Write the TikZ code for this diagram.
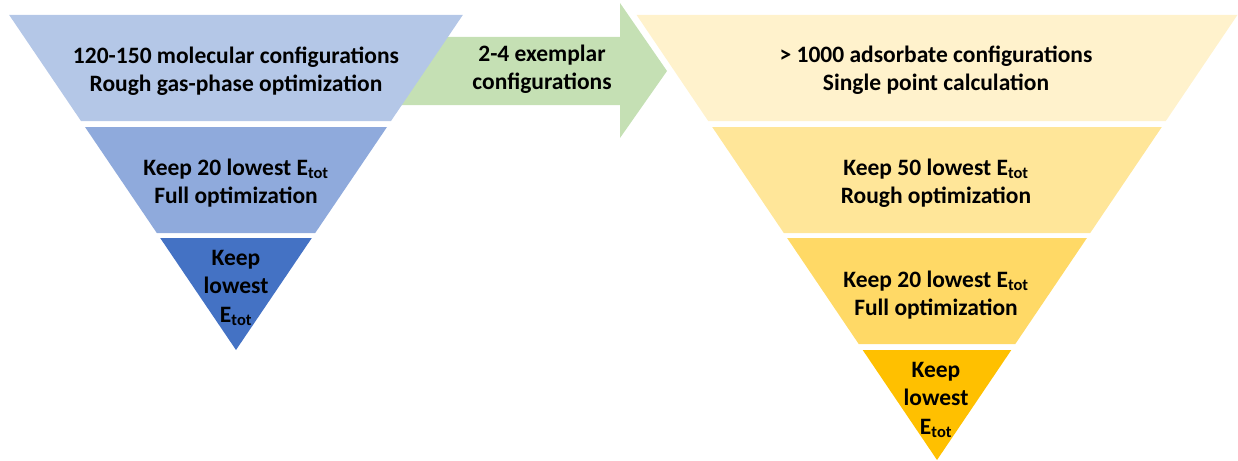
\documentclass[tikz,border=0pt]{standalone}
\usepackage{fontspec}
\setmainfont{Carlito}
\definecolor{blueA}{HTML}{B4C7E7}
\definecolor{blueB}{HTML}{8FAADC}
\definecolor{blueC}{HTML}{4472C4}
\definecolor{yelA}{HTML}{FFF2CC}
\definecolor{yelB}{HTML}{FFE699}
\definecolor{yelC}{HTML}{FFD966}
\definecolor{yelD}{HTML}{FFC000}
\definecolor{arrowgreen}{HTML}{C5E0B4}
\begin{document}
\begin{tikzpicture}[x=1pt,y=-1pt,
  lbl/.style={align=center,inner sep=0pt,text=black,font=\bfseries\fontsize{23.5}{28.5}\selectfont}]
\useasboundingbox (0,0) rectangle (1238,460);
% arrow (drawn first, partly under left funnel)
\fill[arrowgreen] (380,37) -- (620,37) -- (620,3) -- (667,71) -- (620,138) -- (620,105) -- (380,105) -- cycle;
% left funnel
\fill[blueA] (9.2,15) -- (462.8,15) -- (391,121) -- (81,121) -- cycle;
\fill[blueB] (85,127) -- (387,127) -- (315.2,233) -- (156.8,233) -- cycle;
\fill[blueC] (160.2,238) -- (311.8,238) -- (236,350) -- cycle;
% right funnel
\fill[yelA] (636.6,15) -- (1237.4,15) -- (1165.8,121) -- (708.2,121) -- cycle;
\fill[yelB] (712.2,127) -- (1161.8,127) -- (1090.2,233) -- (783.8,233) -- cycle;
\fill[yelC] (787.1,238) -- (1086.9,238) -- (1015.3,344) -- (858.7,344) -- cycle;
\fill[yelD] (862.7,350) -- (1011.3,350) -- (937,460) -- cycle;
% labels
\node[lbl] (l1) at (236,71) {120-150 molecular configurations\\Rough gas-phase optimization};
\node[lbl] (l2) at (236,183) {Keep 20 lowest E\textsubscript{tot}\\Full optimization};
\node[lbl] (l3) at (236,288) {Keep\\lowest\\E\textsubscript{tot}};
\node[lbl] (ar) at (542,69) {2-4 exemplar\\configurations};
\node[lbl] (r1) at (936,70) {> 1000 adsorbate configurations\\Single point calculation};
\node[lbl] (r2) at (936,183) {Keep 50 lowest E\textsubscript{tot}\\Rough optimization};
\node[lbl] (r3) at (936,295) {Keep 20 lowest E\textsubscript{tot}\\Full optimization};
\node[lbl] (r4) at (936,400) {Keep\\lowest\\E\textsubscript{tot}};
\end{tikzpicture}
\end{document}
